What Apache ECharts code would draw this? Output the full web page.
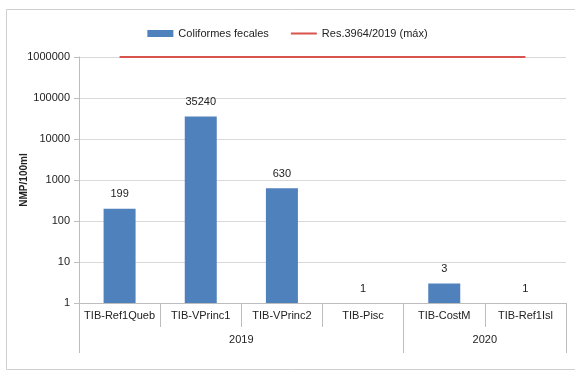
<!DOCTYPE html>
<html>
<head>
<meta charset="utf-8">
<script src="https://cdn.jsdelivr.net/npm/echarts@6/dist/echarts.min.js"></script>
<style>
  html, body { margin: 0; padding: 0; background: #fff; }
  #main { width: 575px; height: 372px; }
</style>
</head>
<body>
<div id="main"></div>
<script>
// datos del gráfico
var estaciones = ['TIB-Ref1Queb', 'TIB-VPrinc1', 'TIB-VPrinc2', 'TIB-Pisc', 'TIB-CostM', 'TIB-Ref1Isl'];
var anios = ['2019', '2020'];
var aniosPos = [2, 5];          // centro de cada grupo (en unidades de categoría)
var aniosLimites = [0, 4, 6];   // límites entre grupos
var coliformes = [199, 35240, 630, 1, 3, 1];
var limiteMax = [1000000, 1000000, 1000000, 1000000, 1000000, 1000000];

var fuente = '"Liberation Sans", Arial, sans-serif';
var chart = echarts.init(document.getElementById('main'));

var option = {
    animation: false,
    textStyle: { fontFamily: fuente },
    // marco exterior (sólo arriba, izquierda y abajo quedan dentro del recorte)
    graphic: [{
        type: 'polyline',
        shape: { points: [[640, 9.5], [6.5, 9.5], [6.5, 369.5], [640, 369.5]] },
        style: { fill: 'none', stroke: '#cfcfcf', lineWidth: 1 },
        silent: true
    }],
    legend: {
        top: 23,
        left: 'center',
        itemGap: 22,
        itemWidth: 26,
        itemHeight: 7,
        textStyle: { fontSize: 11, color: '#222', fontFamily: fuente },
        data: [
            { name: 'Coliformes fecales', icon: 'rect' },
            { name: 'Res.3964/2019 (máx)', icon: 'path://M0,0h26v2h-26z' }
        ]
    },
    grid: { left: 79, right: 9, top: 57, bottom: 69, outerBoundsMode: 'none', containLabel: false },
    xAxis: [{
        type: 'category',
        data: estaciones,
        axisLine: { lineStyle: { color: '#bdbdbd' } },
        axisTick: { show: true, length: 24, lineStyle: { color: '#bdbdbd' } },
        axisLabel: { color: '#222', fontSize: 11, margin: 7, interval: 0 }
    }, {
        type: 'value',
        position: 'bottom',
        offset: 24,
        min: 0,
        max: 6,
        axisLine: { show: false },
        splitLine: { show: false },
        axisTick: { show: true, length: 26, customValues: aniosLimites, lineStyle: { color: '#bdbdbd' } },
        axisLabel: {
            color: '#222', fontSize: 11, margin: 7,
            customValues: aniosPos,
            formatter: function (v) { return anios[aniosPos.indexOf(v)]; }
        }
    }],
    yAxis: {
        type: 'log',
        logBase: 10,
        min: 1,
        max: 1000000,
        name: 'NMP/100ml',
        nameLocation: 'middle',
        nameGap: 50,
        nameMoveOverlap: false,
        nameRotate: 90,
        nameTextStyle: { fontSize: 10, fontWeight: 'bold', color: '#222' },
        axisLine: { show: true, lineStyle: { color: '#bdbdbd' } },
        axisTick: { show: true, length: 5, lineStyle: { color: '#bdbdbd' } },
        axisLabel: { color: '#222', fontSize: 11, margin: 9, formatter: function (v) { return String(v); } },
        splitLine: { lineStyle: { color: '#d9d9d9' } }
    },
    series: [{
        name: 'Coliformes fecales',
        type: 'bar',
        data: coliformes,
        barWidth: 32,
        itemStyle: { color: '#4f81bd' },
        label: { show: true, position: 'top', distance: 9, color: '#222', fontSize: 11 }
    }, {
        name: 'Res.3964/2019 (máx)',
        type: 'line',
        data: limiteMax,
        symbol: 'none',
        lineStyle: { color: '#d9534f', width: 2 },
        itemStyle: { color: '#d9534f' }
    }]
};

chart.setOption(option);
</script>
</body>
</html>
